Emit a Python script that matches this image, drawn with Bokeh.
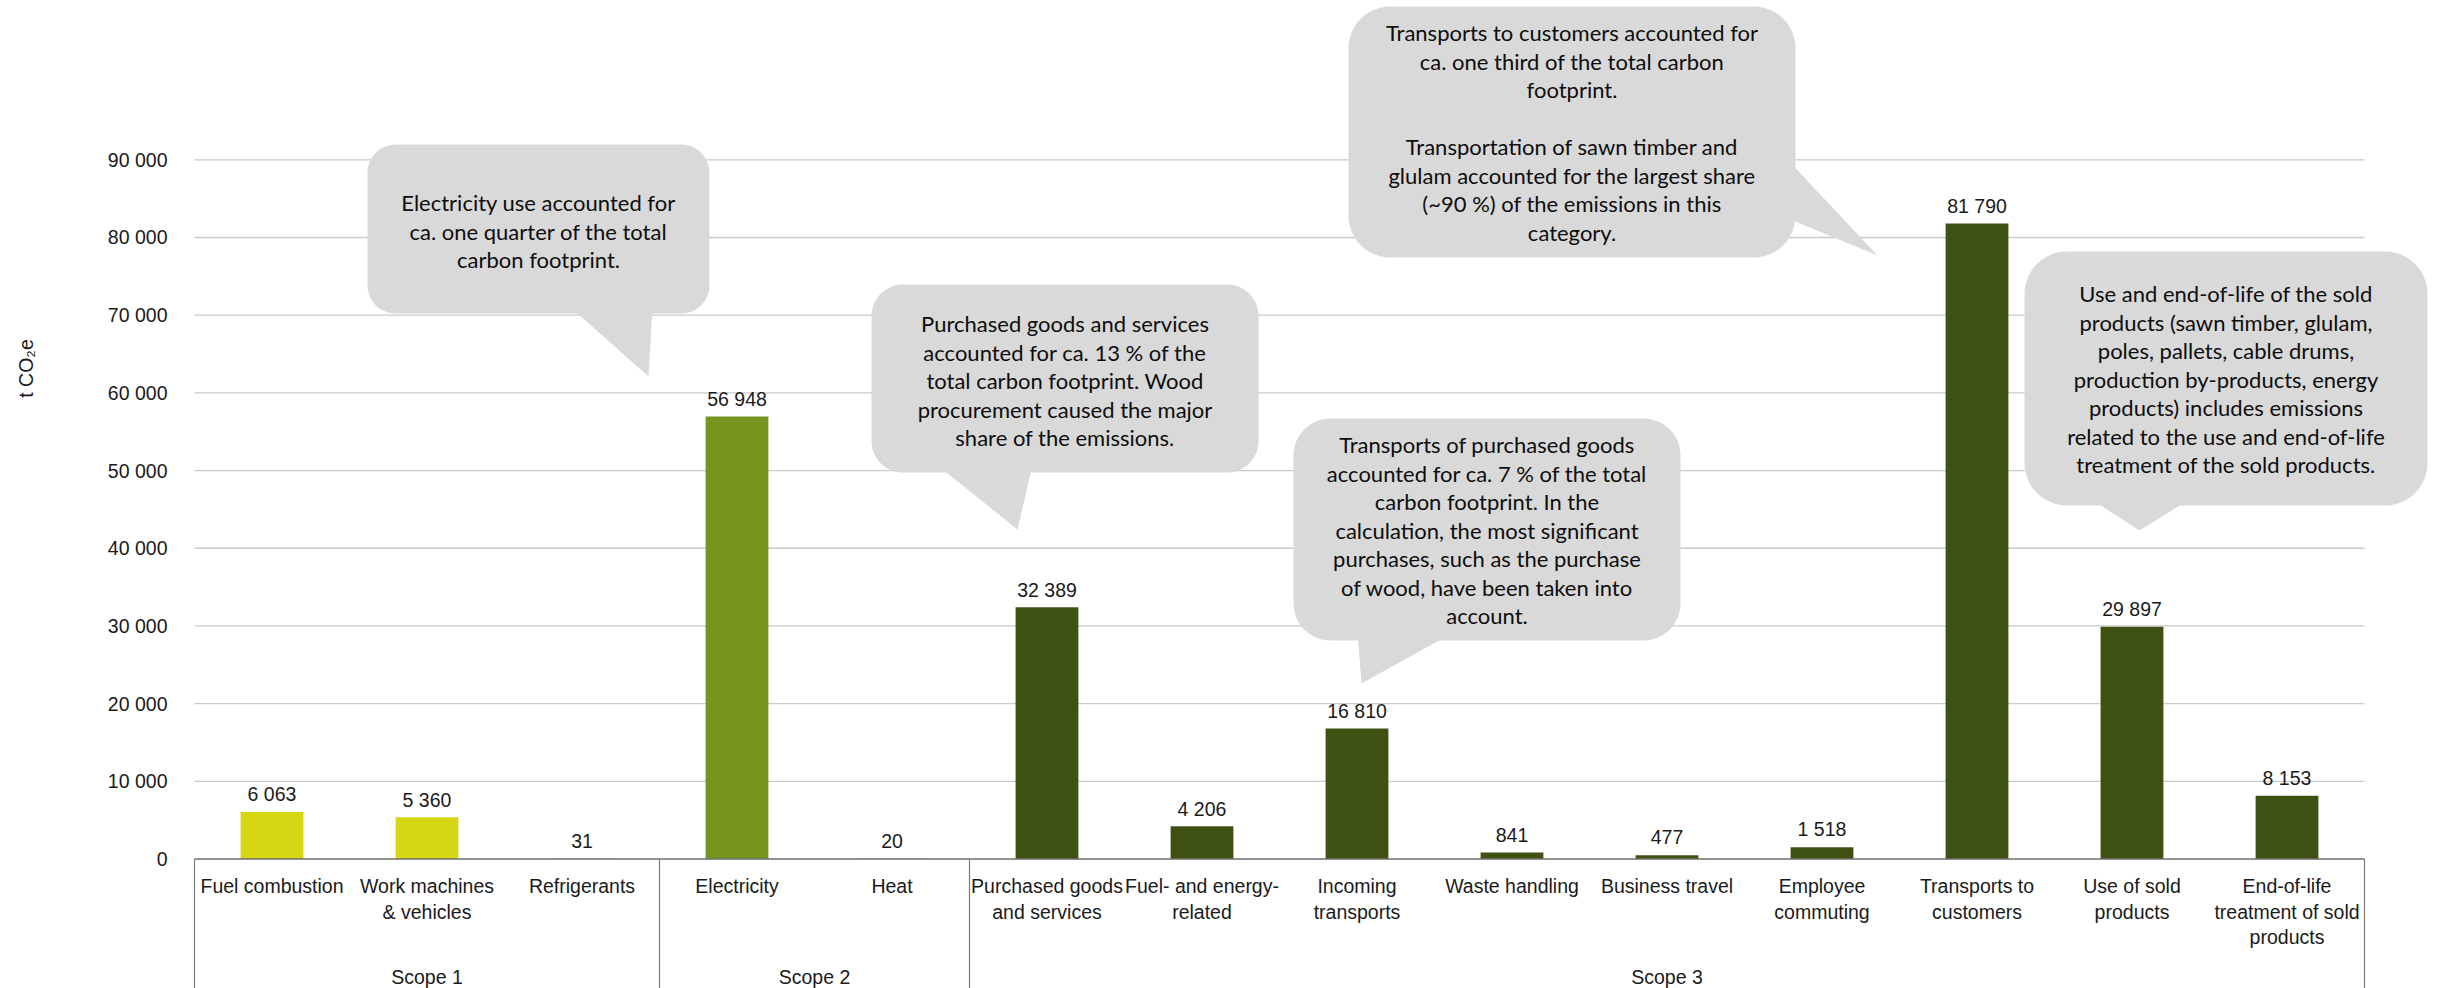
import math
from bokeh.plotting import figure
from bokeh.models import Range1d, FixedTicker, LinearAxis
from bokeh.core.properties import value
from bokeh.embed import file_html
from bokeh.resources import INLINE

# ---------------- data ----------------
categories = [
    "Fuel combustion", "Work machines\n& vehicles", "Refrigerants",
    "Electricity", "Heat",
    "Purchased goods\nand services", "Fuel- and energy-\nrelated", "Incoming\ntransports",
    "Waste handling", "Business travel", "Employee\ncommuting",
    "Transports to\ncustomers", "Use of sold\nproducts", "End-of-life\ntreatment of sold\nproducts",
]
scopes = ["Scope 1"] * 3 + ["Scope 2"] * 2 + ["Scope 3"] * 9
emissions = [6063, 5360, 31, 56948, 20, 32389, 4206, 16810, 841, 477, 1518, 81790, 29897, 8153]
scope_names = ["Scope 1", "Scope 2", "Scope 3"]
scope_colors = ["#D7D612", "#76951E", "#3F5112"]
y_ticks = [0, 10000, 20000, 30000, 40000, 50000, 60000, 70000, 80000, 90000]
y_tick_labels = ["0", "10 000", "20 000", "30 000", "40 000", "50 000", "60 000", "70 000", "80 000", "90 000"]
y_title = "t CO\u2082e"

callout_texts = [
    ["Electricity use accounted for", "ca. one quarter of the total", "carbon footprint."],
    ["Purchased goods and services", "accounted for ca. 13 % of the", "total carbon footprint. Wood",
     "procurement caused the major", "share of the emissions."],
    ["Transports of purchased goods", "accounted for ca. 7 % of the total", "carbon footprint. In the",
     "calculation, the most significant", "purchases, such as the purchase", "of wood, have been taken into",
     "account."],
    ["Transports to customers accounted for", "ca. one third of the total carbon", "footprint.", "",
     "Transportation of sawn timber and", "glulam accounted for the largest share",
     "(~90 %) of the emissions in this", "category."],
    ["Use and end-of-life of the sold", "products (sawn timber, glulam,", "poles, pallets, cable drums,",
     "production by-products, energy", "products) includes emissions", "related to the use and end-of-life",
     "treatment of the sold products."],
]

# ---------------- layout (pixels) ----------------
W, H = 2440, 988
LEFT = 194            # plot-area left edge, px from figure left
ZERO = 858.5          # zero line, px from figure top
CAT_PX = 155.0        # px per category
UNIT_PX = 77.69 / 10000.0  # px per t CO2e
U = 1.0 / UNIT_PX     # data units per px


def dx(px):  # page px -> data x
    return (px - LEFT) / CAT_PX


def dy(py):  # page px -> data y
    return (ZERO - py) * U


p = figure(width=W, height=H, output_backend="svg", toolbar_location=None,
           x_range=Range1d(-LEFT / CAT_PX, (W - LEFT) / CAT_PX),
           y_range=Range1d(-(H - ZERO) * U, ZERO * U),
           x_axis_location=None, y_axis_location=None,
           min_border_left=0, min_border_right=0, min_border_top=0, min_border_bottom=0)
p.outline_line_color = None
p.xgrid.grid_line_color = None
p.ygrid.grid_line_color = None
p.background_fill_color = "white"
p.border_fill_color = "white"

n = len(categories)
centers = [i + 0.5 for i in range(n)]
colors = [scope_colors[scope_names.index(s)] for s in scopes]

# gridlines
grid_vals = [t for t in y_ticks if t > 0]
p.segment(x0=[0] * len(grid_vals), x1=[n] * len(grid_vals), y0=grid_vals, y1=grid_vals,
          line_color="#CACACA", line_width=1.3)

# bars
p.vbar(x=centers, top=emissions, width=0.405, color=colors, line_color=None)

# zero axis line
p.segment(x0=[0], x1=[n], y0=[0], y1=[0], line_color="#6E6E6E", line_width=1.3)

# group separators
bounds = [0]
for i in range(1, n):
    if scopes[i] != scopes[i - 1]:
        bounds.append(i)
bounds.append(n)
ybot = -(H - ZERO) * U
p.segment(x0=bounds, x1=bounds, y0=[0] * len(bounds), y1=[ybot] * len(bounds),
          line_color="#7A7A7A", line_width=1.2)

FONT = value("Liberation Sans")
FS = "19.5px"

# value labels
p.text(x=centers, y=[v + 17.8 * U for v in emissions],
       text=[f"{v:,}".replace(",", " ") for v in emissions],
       text_font=FONT, text_font_size=FS, text_align="center", text_baseline="middle",
       text_color="#1A1A1A")

# category labels
lx, ly, lt = [], [], []
for c, name in zip(centers, categories):
    for j, line in enumerate(name.split("\n")):
        lx.append(c)
        ly.append(-(27.2 + 25.5 * j) * U)
        lt.append(line)
p.text(x=lx, y=ly, text=lt, text_font=FONT, text_font_size=FS, text_align="center",
       text_baseline="middle", text_color="#1A1A1A")

# scope labels
sx = [(bounds[k] + bounds[k + 1]) / 2 for k in range(len(bounds) - 1)]
p.text(x=sx, y=[-117.5 * U] * len(sx), text=scope_names, text_font=FONT, text_font_size=FS,
       text_align="center", text_baseline="middle", text_color="#1A1A1A")

# y axis (fixed at the left edge of the plot area)
ax = LinearAxis(fixed_location=0)
ax.ticker = FixedTicker(ticks=y_ticks)
ax.major_label_overrides = {t: l for t, l in zip(y_ticks, y_tick_labels)}
ax.axis_line_color = None
ax.major_tick_line_color = None
ax.minor_tick_line_color = None
ax.major_label_standoff = 21
ax.major_label_text_font = "Liberation Sans"
ax.major_label_text_font_size = FS
ax.major_label_text_color = "#1A1A1A"
p.add_layout(ax, "left")

# y axis title
p.text(x=[dx(25)], y=[dy(368)], text=[y_title], angle=math.pi / 2,
       text_font=FONT, text_font_size=FS, text_align="center", text_baseline="middle",
       text_color="#1A1A1A")

# ---------------- callouts (page px: box x0, x1, y0, y1, tail pts, first text line y) ----------------
callouts = [
    dict(box=(367, 709, 144, 313), tail=[(568, 305), (652, 305), (648, 376)], ty=202),
    dict(box=(871, 1258, 284, 472), tail=[(936, 464), (1032, 464), (1017, 529)], ty=323),
    dict(box=(1293, 1680, 418, 640), tail=[(1357, 632), (1453, 632), (1361, 683)], ty=444),
    dict(box=(1348, 1795, 6, 257), tail=[(1785, 157), (1785, 217), (1877, 255)], ty=32),
    dict(box=(2024, 2427, 251, 505), tail=[(2088, 497), (2192, 497), (2139, 530)], ty=293),
]
LINE_H = 28.5
CFILL = "#D9D9D9"

rx_list, ry_list, tx_list, tyl = [], [], [], []
for co in callouts:
    x0, x1, y0, y1 = co["box"]
    r = min(x1 - x0, y1 - y0) / 6.0
    pts = []
    corners = [(x1 - r, y0 + r, -90, 0), (x1 - r, y1 - r, 0, 90),
               (x0 + r, y1 - r, 90, 180), (x0 + r, y0 + r, 180, 270)]
    for cx, cy, a0, a1 in corners:
        for k in range(13):
            a = math.radians(a0 + (a1 - a0) * k / 12)
            pts.append((cx + r * math.cos(a), cy + r * math.sin(a)))
    rx_list.append([dx(px) for px, _ in pts])
    ry_list.append([dy(py) for _, py in pts])
    tx_list.append([dx(px) for px, _ in co["tail"]])
    tyl.append([dy(py) for _, py in co["tail"]])

p.patches(xs=rx_list, ys=ry_list, fill_color=CFILL, line_color=None)
p.patches(xs=tx_list, ys=tyl, fill_color=CFILL, line_color=None)

cx_, cy_, ct_ = [], [], []
for co, lines in zip(callouts, callout_texts):
    x0, x1, _, _ = co["box"]
    for j, line in enumerate(lines):
        if not line:
            continue
        cx_.append(dx((x0 + x1) / 2))
        cy_.append(dy(co["ty"] + LINE_H * j))
        ct_.append(line)
p.text(x=cx_, y=cy_, text=ct_, text_font=value("Lato"), text_font_size="22px",
       text_align="center", text_baseline="middle", text_color="#0D0D0D")

open("out.html", "w").write(file_html(p, INLINE))
